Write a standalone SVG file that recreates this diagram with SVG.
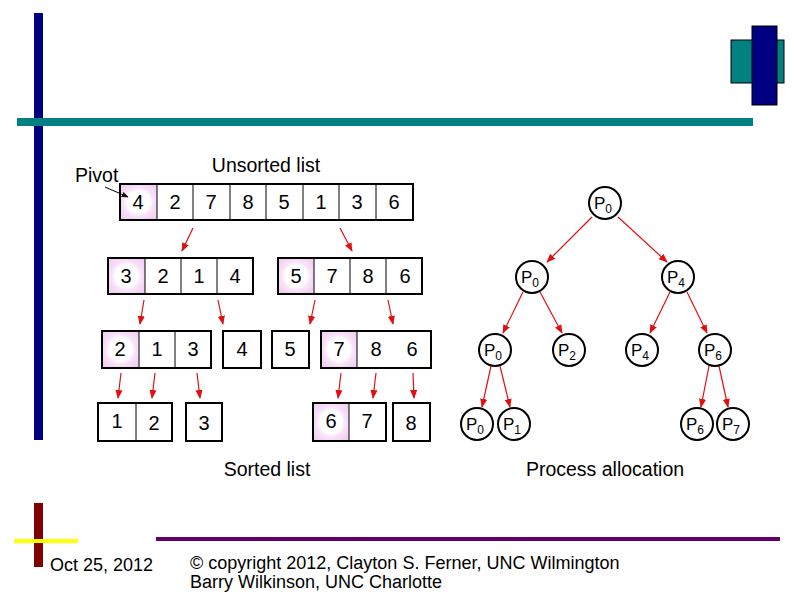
<svg xmlns="http://www.w3.org/2000/svg" width="794" height="595" viewBox="0 0 794 595">
<style>
.t{font-family:"Liberation Sans",Arial,sans-serif;fill:#000}
.n{font-size:20px;text-anchor:middle}
.lbl{font-size:19.5px;text-anchor:middle}
.box{fill:none;stroke:#000;stroke-width:2}
.div{stroke:#000;stroke-width:1}
.ar{stroke:#e01010;stroke-width:1.2;fill:none;marker-end:url(#ah)}
.nd{fill:#fff;stroke:#000;stroke-width:2}
.p{font-size:17px;text-anchor:middle}
.s{font-size:12px}
.ft{font-family:"Liberation Sans",Arial,sans-serif;font-size:18px;fill:#000}
</style>
<defs>
<marker id="ah" viewBox="0 0 10 10" refX="9" refY="5" markerWidth="9" markerHeight="9" markerUnits="userSpaceOnUse" orient="auto">
<path d="M0,1 L10,5 L0,9 Z" fill="#e01010"/>
</marker>
<marker id="bh" viewBox="0 0 10 10" refX="9" refY="5" markerWidth="7" markerHeight="7" markerUnits="userSpaceOnUse" orient="auto">
<path d="M0,1 L10,5 L0,9 Z" fill="#000"/>
</marker>
<radialGradient id="pk" cx="0.5" cy="0.5" r="0.6">
<stop offset="0.5" stop-color="#ffffff"/>
<stop offset="0.68" stop-color="#f8e2f8"/>
<stop offset="1" stop-color="#f2d0f2"/>
</radialGradient>
</defs>

<!-- frame decoration -->
<g id="frame">
<rect x="34" y="13" width="9" height="427" fill="#000080"/>
<rect x="17" y="118" width="736" height="8" fill="#008080"/>
<rect x="731" y="40" width="53" height="43" fill="#008080" stroke="#000" stroke-width="1"/>
<rect x="752" y="26" width="25" height="79" fill="#000080" stroke="#000" stroke-width="1"/>
<rect x="34" y="503" width="9" height="64" fill="#800000"/>
<rect x="14" y="539" width="64" height="4" fill="#ffff00"/>
<rect x="156" y="537" width="624" height="4" fill="#660066"/>
</g>

<!-- labels -->
<g id="labels">
<text class="t lbl" x="266" y="172">Unsorted list</text>
<text class="t" x="75" y="182" font-size="19.5">Pivot</text>
<text class="t lbl" x="267" y="476">Sorted list</text>
<text class="t lbl" x="605" y="476">Process allocation</text>
</g>

<!-- arrays -->
<g id="a0">
<rect x="120" y="184" width="37" height="36" fill="url(#pk)"/>
<rect class="box" x="120" y="184" width="293" height="36"/>
<path class="div" d="M157,184V220M193,184V220M230,184V220M266,184V220M303,184V220M339,184V220M376,184V220"/>
<text class="t n" x="138" y="209">4</text>
<text class="t n" x="175" y="209">2</text>
<text class="t n" x="211" y="209">7</text>
<text class="t n" x="248" y="209">8</text>
<text class="t n" x="284" y="209">5</text>
<text class="t n" x="321" y="209">1</text>
<text class="t n" x="357" y="209">3</text>
<text class="t n" x="394" y="209">6</text>
</g>
<g id="a1">
<rect x="108" y="258" width="37" height="36" fill="url(#pk)"/>
<rect class="box" x="108" y="258" width="145" height="36"/>
<path class="div" d="M145,258V294M181,258V294M217,258V294"/>
<text class="t n" x="126" y="283">3</text>
<text class="t n" x="163" y="283">2</text>
<text class="t n" x="199" y="283">1</text>
<text class="t n" x="235" y="283">4</text>
</g>
<g id="a2">
<rect x="278" y="258" width="36" height="36" fill="url(#pk)"/>
<rect class="box" x="278" y="258" width="144" height="36"/>
<path class="div" d="M314,258V294M350,258V294M386,258V294"/>
<text class="t n" x="296" y="283">5</text>
<text class="t n" x="332" y="283">7</text>
<text class="t n" x="368" y="283">8</text>
<text class="t n" x="405" y="283">6</text>
</g>
<g id="a3">
<rect x="102" y="331" width="37" height="37" fill="url(#pk)"/>
<rect class="box" x="102" y="331" width="109" height="37"/>
<path class="div" d="M139,331V368M175,331V368"/>
<text class="t n" x="120" y="356">2</text>
<text class="t n" x="157" y="356">1</text>
<text class="t n" x="193" y="356">3</text>
</g>
<g id="a4">
<rect class="box" x="223" y="331" width="38" height="37"/>
<text class="t n" x="242" y="356">4</text>
</g>
<g id="a5">
<rect class="box" x="272" y="331" width="37" height="37"/>
<text class="t n" x="290" y="356">5</text>
</g>
<g id="a6">
<rect x="321" y="331" width="36" height="37" fill="url(#pk)"/>
<rect class="box" x="321" y="331" width="110" height="37"/>
<path class="div" d="M357,331V368"/>
<text class="t n" x="339" y="356">7</text>
<text class="t n" x="376" y="356">8</text>
<text class="t n" x="412" y="356">6</text>
</g>
<g id="a7">
<rect class="box" x="98" y="403" width="74" height="38"/>
<path class="div" d="M136,403V441"/>
<text class="t n" x="117" y="428">1</text>
<text class="t n" x="154" y="430">2</text>
</g>
<g id="a8">
<rect class="box" x="186" y="403" width="36" height="38"/>
<text class="t n" x="204" y="430">3</text>
</g>
<g id="a9">
<rect x="313" y="403" width="36" height="38" fill="url(#pk)"/>
<rect class="box" x="313" y="403" width="73" height="38"/>
<path class="div" d="M349,403V441"/>
<text class="t n" x="331" y="428">6</text>
<text class="t n" x="367" y="428">7</text>
</g>
<g id="a10">
<rect class="box" x="393" y="403" width="37" height="38"/>
<text class="t n" x="411" y="430">8</text>
</g>

<!-- tree nodes -->
<g id="t0"><circle class="nd" cx="605" cy="203" r="16"/><text class="t p" x="603" y="209">P<tspan class="s" dy="4">0</tspan></text></g>
<g id="t1"><circle class="nd" cx="532" cy="277" r="16"/><text class="t p" x="530" y="283">P<tspan class="s" dy="4">0</tspan></text></g>
<g id="t2"><circle class="nd" cx="678" cy="277" r="16"/><text class="t p" x="676" y="283">P<tspan class="s" dy="4">4</tspan></text></g>
<g id="t3"><circle class="nd" cx="495" cy="350" r="16"/><text class="t p" x="493" y="356">P<tspan class="s" dy="4">0</tspan></text></g>
<g id="t4"><circle class="nd" cx="569" cy="350" r="16"/><text class="t p" x="567" y="356">P<tspan class="s" dy="4">2</tspan></text></g>
<g id="t5"><circle class="nd" cx="642" cy="350" r="16"/><text class="t p" x="640" y="356">P<tspan class="s" dy="4">4</tspan></text></g>
<g id="t6"><circle class="nd" cx="715" cy="350" r="16"/><text class="t p" x="713" y="356">P<tspan class="s" dy="4">6</tspan></text></g>
<g id="t7"><circle class="nd" cx="477" cy="424" r="16"/><text class="t p" x="475" y="430">P<tspan class="s" dy="4">0</tspan></text></g>
<g id="t8"><circle class="nd" cx="514" cy="424" r="16"/><text class="t p" x="512" y="430">P<tspan class="s" dy="4">1</tspan></text></g>
<g id="t9"><circle class="nd" cx="697" cy="424" r="16"/><text class="t p" x="695" y="430">P<tspan class="s" dy="4">6</tspan></text></g>
<g id="t10"><circle class="nd" cx="733" cy="424" r="16"/><text class="t p" x="731" y="430">P<tspan class="s" dy="4">7</tspan></text></g>

<!-- connectors -->
<g id="connectors">
<path d="M105,187L128,197" stroke="#000" stroke-width="1" fill="none" marker-end="url(#bh)"/>
<path class="ar" d="M193,228L182,251"/>
<path class="ar" d="M340,228L352,251"/>
<path class="ar" d="M144,300L140,324"/>
<path class="ar" d="M218,300L223,324"/>
<path class="ar" d="M315,300L310,324"/>
<path class="ar" d="M388,300L393,324"/>
<path class="ar" d="M121,373L118,398"/>
<path class="ar" d="M155,373L152,398"/>
<path class="ar" d="M197,373L200,398"/>
<path class="ar" d="M341,373L338,398"/>
<path class="ar" d="M376,373L373,398"/>
<path class="ar" d="M413,373L414,398"/>
<path class="ar" d="M592,217L547,262"/>
<path class="ar" d="M618,217L667,262"/>
<path class="ar" d="M523,292L503,333"/>
<path class="ar" d="M540,292L562,333"/>
<path class="ar" d="M670,292L650,333"/>
<path class="ar" d="M687,292L707,333"/>
<path class="ar" d="M491,366L482,407"/>
<path class="ar" d="M500,366L510,407"/>
<path class="ar" d="M709,366L701,407"/>
<path class="ar" d="M719,366L728,407"/>
</g>

<!-- footer -->
<g id="footer">
<text class="ft" x="50" y="571">Oct 25, 2012</text>
<text class="ft" x="190" y="569">© copyright 2012, Clayton S. Ferner, UNC Wilmington</text>
<text class="ft" x="190" y="588">Barry Wilkinson, UNC Charlotte</text>
</g>
</svg>
